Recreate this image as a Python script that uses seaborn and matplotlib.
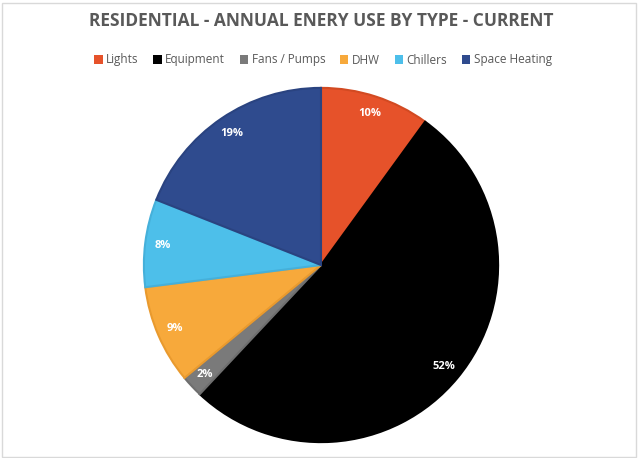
import matplotlib
matplotlib.use("Agg")
import matplotlib.pyplot as plt
import seaborn as sns
from matplotlib.patches import Rectangle, Patch

sns.set_theme(style="white")
plt.rcParams['font.family'] = ['Open Sans', 'DejaVu Sans']

categories = ["Lights", "Equipment", "Fans / Pumps", "DHW", "Chillers", "Space Heating"]
values = [10, 52, 2, 9, 8, 19]
colors = ["#E6522A", "#000000", "#7A7A7A", "#F7A93B", "#4DBFEA", "#2F4B8E"]
edge_colors = ["#D24A22", "#000000", "#6E6E6E", "#E99A2E", "#45B0DA", "#2A4380"]
title = "RESIDENTIAL - ANNUAL ENERY USE BY TYPE - CURRENT"

W, H = 638, 458
fig = plt.figure(figsize=(W / 100, H / 100), dpi=100)
fig.patch.set_facecolor("white")

cx, cy, r = 321, 265, 178
ax = fig.add_axes([(cx - r) / W, (H - cy - r) / H, 2 * r / W, 2 * r / H])
wedges, texts, autotexts = ax.pie(
    values, colors=colors, startangle=90, counterclock=False,
    autopct=lambda p: f"{p:.0f}%", pctdistance=0.9, radius=1,
    wedgeprops=dict(linewidth=1.5),
    textprops=dict(color="white", fontsize=8, fontweight="bold"))
for w, ec in zip(wedges, edge_colors):
    w.set_edgecolor(ec)
ax.set_xlim(-1.005, 1.005)
ax.set_ylim(-1.005, 1.005)
ax.set_aspect("equal")
ax.axis("off")

fig.text(cx / W, 1 - 21 / H, title, ha="center", va="center",
         fontsize=12.5, fontweight="bold", color="#595959")

handles = [Patch(facecolor=c, edgecolor="none") for c in colors]
fig.legend(handles, categories, loc="center", bbox_to_anchor=(323 / W, 1 - 60 / H),
           ncol=6, frameon=False, fontsize=8.5, handlelength=0.7, handleheight=0.7,
           handletextpad=0.3, columnspacing=1.25, labelcolor="#595959")

fig.add_artist(Rectangle((1.5 / W, 1.5 / H), (W - 4) / W, (H - 4) / H,
                         transform=fig.transFigure, fill=False,
                         edgecolor="#D9D9D9", linewidth=1))

fig.savefig("out.png", dpi=100)
